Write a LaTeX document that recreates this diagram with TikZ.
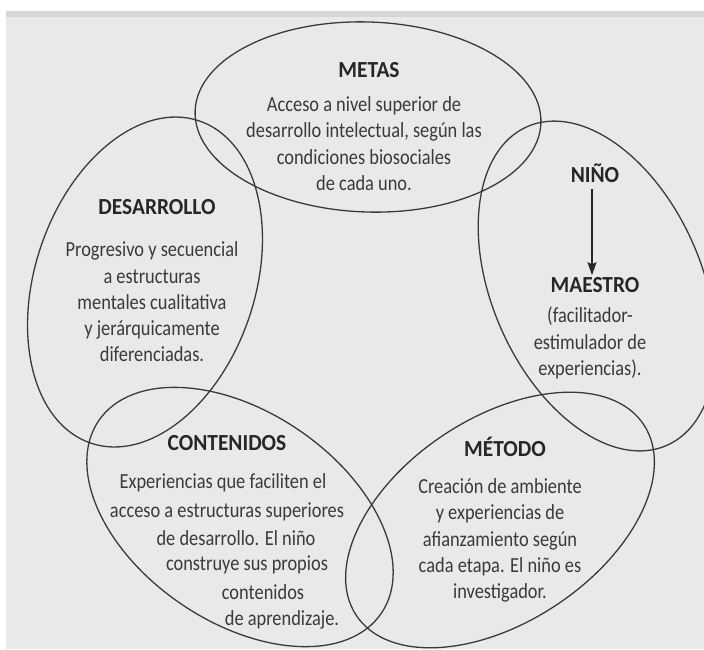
\documentclass[tikz,border=0pt]{standalone}
\usepackage{fontspec}
\setmainfont{Carlito}
\newfontfamily\bodyfont{Carlito}[FakeStretch=0.855]
\newfontfamily\headfont{Carlito}[FakeStretch=0.93]
\usetikzlibrary{shapes.geometric,arrows.meta}
\definecolor{paper}{RGB}{233,233,233}
\definecolor{paperdark}{RGB}{214,214,214}
\definecolor{ink}{RGB}{58,58,58}
\definecolor{inkdark}{RGB}{38,38,38}
\begin{document}
\begin{tikzpicture}[x=1pt,y=-1pt,
  oval/.style={draw=ink, line width=1.3pt, ellipse, inner sep=0pt, outer sep=0pt},
  head/.style={font=\headfont\bfseries\fontsize{23}{26}\selectfont, text=inkdark, inner sep=2pt},
  body/.style={font=\bodyfont\fontsize{21.5}{26.3}\selectfont, text=ink, align=center, inner sep=2pt},
  line/.style={font=\bodyfont\fontsize{21.5}{26.3}\selectfont, text=ink, inner sep=1pt},
  arrowline/.style={draw=inkdark, line width=1.4pt, -{Stealth[length=13pt,width=9pt,inset=2pt]}}]
\useasboundingbox (0,0) rectangle (704,649);
\fill[white] (0,0) rectangle (704,649);
\fill[paper] (6,11) rectangle (704,649);
\fill[paperdark] (6,11) rectangle (704,17);
% ovals
\node[oval, minimum width=346pt, minimum height=190pt, rotate=-2] (metasOval) at (368,117) {};
\node[oval, minimum width=340pt, minimum height=220pt, rotate=71.5] (desOval) at (145,282) {};
\node[oval, minimum width=348pt, minimum height=210pt, rotate=-66.4] (ninoOval) at (597,286) {};
\node[oval, minimum width=342pt, minimum height=210pt, rotate=-34.3] (contOval) at (240,517) {};
\node[oval, minimum width=345pt, minimum height=204pt, rotate=33.6] (metOval) at (500,520) {};
% METAS
\node[head] (metasH) at (369,70) {METAS};
\node[body] (metasB) at (364,143.5) {Acceso a nivel superior de\\desarrollo intelectual, según las\\condiciones biosociales\\de cada uno.};
% NIÑO / MAESTRO
\node[head] (ninoH) at (595,173) {NIÑO};
\node[head] (maestroH) at (595,285) {MAESTRO};
\draw[arrowline] (ninoH.south) ++(-3,4) coordinate (arrS) -- (arrS |- maestroH.north) coordinate (arrE);
\node[body] (maestroB) at (590,343) {(facilitador-\\estimulador de\\experiencias).};
% DESARROLLO
\node[head] (desH) at (157,207) {DESARROLLO};
\node[body] (desB) at (152,302) {Progresivo y secuencial\\a estructuras\\mentales cualitativa\\y jerárquicamente\\diferenciadas.};
% CONTENIDOS
\node[head] (contH) at (227,443) {CONTENIDOS};
\node[line] (c1) at (223,483) {Experiencias que faciliten el};
\node[line] (c2) at (227,512) {acceso a estructuras superiores};
\node[line] (c3) at (236,538) {de desarrollo. El niño};
\node[line] (c4) at (247,565) {construye sus propios};
\node[line] (c5) at (263,592) {contenidos};
\node[line] (c6) at (282,620) {de aprendizaje.};
% MÉTODO
\node[head] (metH) at (505,447) {MÉTODO};
\node[body] (metB) at (500,540.5) {Creación de ambiente\\y experiencias de\\afianzamiento según\\cada etapa. El niño es\\investigador.};
\end{tikzpicture}
\end{document}
